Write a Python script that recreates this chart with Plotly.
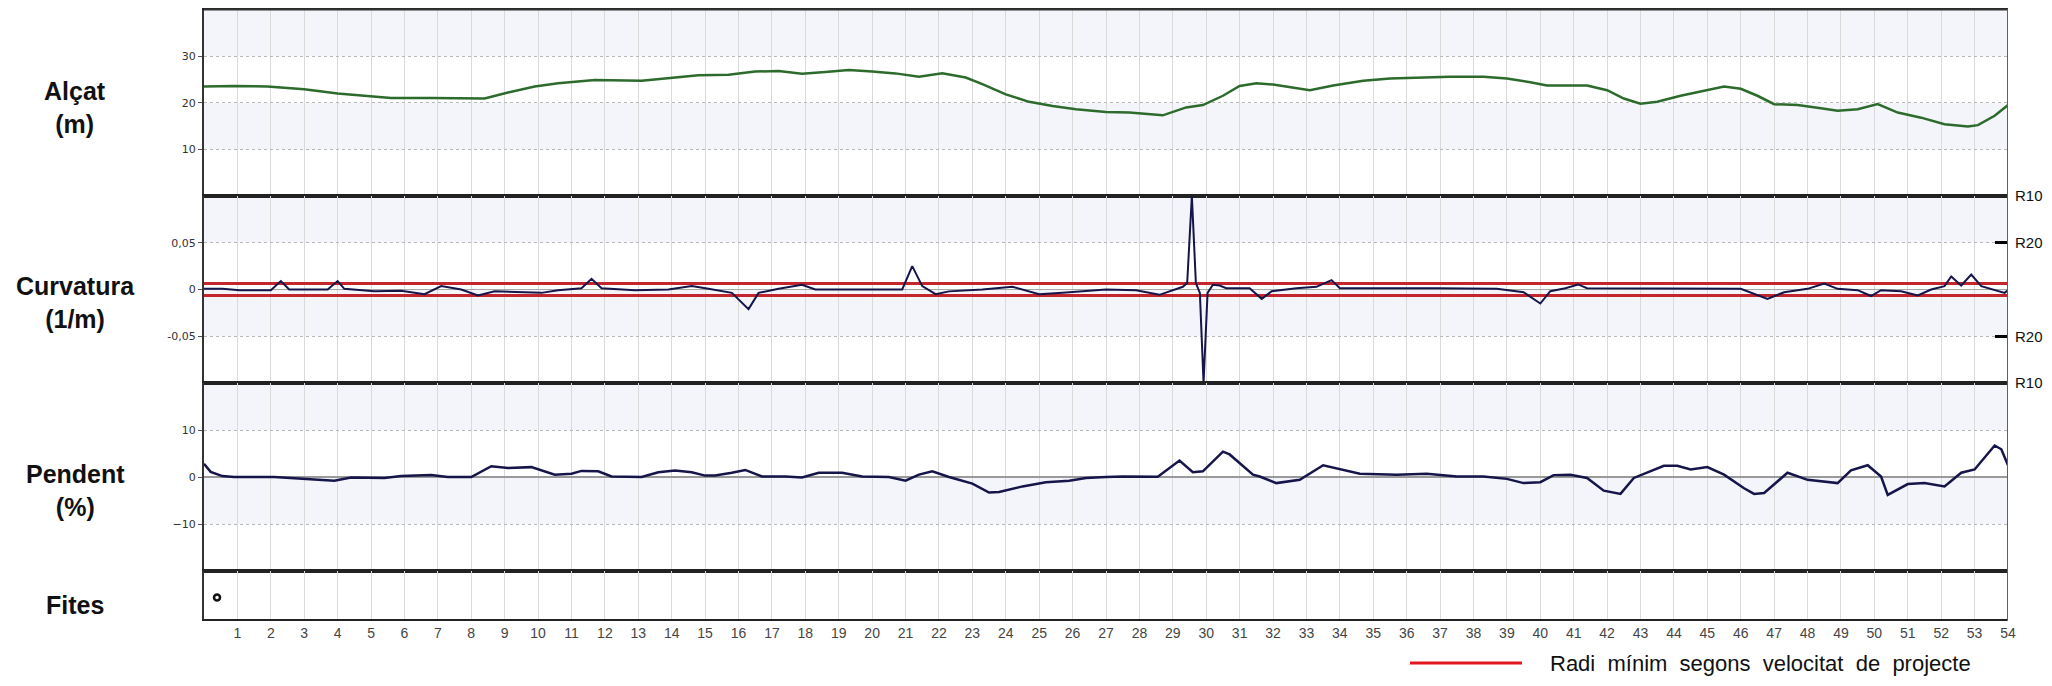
import plotly.graph_objects as go

# perfil longitudinal: alçat, curvatura, pendent i fites (pk en hm)
km_ticks = list(range(1, 55))

alcat_km = [0, 0.9, 1.9, 3.0, 4.0, 5.1, 5.6, 6.8, 7.5, 8.4, 9.1, 9.9, 10.6, 11.7, 13.1,
            14.1, 14.8, 15.7, 16.5, 17.2, 17.9, 18.6, 19.3, 20.0, 20.7, 21.4, 22.1, 22.8,
            23.3, 24.0, 24.7, 25.4, 26.1, 27.0, 27.7, 28.7, 29.4, 29.9, 30.5, 31.0, 31.5,
            32.0, 32.6, 33.1, 33.8, 34.7, 35.5, 36.6, 37.3, 38.3, 39.0, 39.7, 40.2, 40.8,
            41.4, 42.0, 42.5, 43.0, 43.5, 44.2, 44.9, 45.5, 46.0, 46.5, 47.0, 47.7, 48.4,
            48.9, 49.5, 50.1, 50.7, 51.4, 52.1, 52.8, 53.1, 53.6, 54.0]
alcat_m = [23.5, 23.6, 23.5, 22.9, 22.0, 21.3, 21.0, 21.0, 20.9, 20.9, 22.2, 23.5, 24.2,
           24.9, 24.7, 25.4, 25.9, 26.0, 26.7, 26.8, 26.2, 26.6, 27.0, 26.7, 26.3, 25.6,
           26.3, 25.4, 24.0, 21.8, 20.2, 19.3, 18.6, 18.0, 17.9, 17.3, 19.0, 19.5, 21.5,
           23.6, 24.2, 23.9, 23.2, 22.7, 23.7, 24.7, 25.2, 25.4, 25.6, 25.6, 25.2, 24.4,
           23.7, 23.7, 23.7, 22.7, 20.9, 19.8, 20.2, 21.5, 22.5, 23.5, 23.0, 21.5, 19.7,
           19.5, 18.8, 18.3, 18.6, 19.7, 17.9, 16.8, 15.4, 14.9, 15.2, 17.2, 19.5]

curv_km = [0, 0.55, 1.07, 2.0, 2.3, 2.55, 3.7, 4.0, 4.2, 5.1, 5.9, 6.6, 7.1, 7.7, 8.2,
           8.7, 10.1, 10.6, 11.3, 11.6, 11.9, 12.9, 13.9, 14.6, 15.1, 15.8, 16.3, 16.6,
           17.2, 17.9, 18.3, 20.9, 21.2, 21.5, 21.9, 22.3, 23.3, 24.2, 25.0, 25.7, 27.0,
           27.9, 28.6, 29.3, 29.43, 29.57, 29.69, 29.81, 29.92, 30.04, 30.2, 30.4, 30.6,
           31.3, 31.66, 31.96, 32.7, 33.3, 33.75, 34.0, 36.9, 38.7, 39.5, 40.0, 40.3,
           40.75, 41.13, 41.4, 46.0, 46.8, 47.3, 48.0, 48.5, 48.9, 49.5, 49.9, 50.2, 50.8,
           51.3, 51.7, 52.1, 52.3, 52.6, 52.9, 53.2, 53.6, 53.9, 54.0]
curv_inv_m = [0.0007, 0.0007, -0.0007, -0.0007, 0.009, 0.0, 0.0, 0.009, 0.0007, -0.002,
              -0.0014, -0.005, 0.0036, 0.0, -0.0064, -0.002, -0.0036, -0.0007, 0.0014,
              0.0114, 0.0014, -0.0007, 0.0, 0.0036, 0.0007, -0.0036, -0.021, -0.0036,
              0.0007, 0.005, 0.0, 0.0, 0.025, 0.0036, -0.005, -0.002, 0.0, 0.003, -0.005,
              -0.0036, 0.0, -0.0007, -0.0057, 0.0029, 0.007, 0.1, 0.007, -0.0036, -0.1,
              -0.0036, 0.005, 0.0043, 0.0014, 0.0014, -0.01, -0.0018, 0.0014, 0.0029, 0.01,
              0.0014, 0.0014, 0.0007, -0.0029, -0.015, -0.0018, 0.0014, 0.0054, 0.0014,
              0.0007, -0.01, -0.0029, 0.0007, 0.0064, 0.0007, -0.0007, -0.007, -0.0007,
              -0.0018, -0.0064, 0.0, 0.0036, 0.014, 0.0043, 0.016, 0.0036, -0.0007,
              -0.0036, -0.0007]

pend_km = [0, 0.2, 0.55, 0.9, 2.1, 3.0, 3.9, 4.4, 5.4, 5.9, 6.8, 7.3, 8.0, 8.6, 9.1, 9.8,
           10.5, 11.0, 11.3, 11.8, 12.2, 13.1, 13.6, 14.1, 14.6, 15.0, 15.3, 15.8, 16.2,
           16.7, 17.4, 17.9, 18.4, 19.1, 19.7, 20.5, 21.0, 21.4, 21.8, 22.3, 23.0, 23.5,
           23.8, 24.5, 25.2, 25.9, 26.4, 27.0, 27.5, 28.55, 29.2, 29.6, 29.9, 30.5, 30.7,
           31.4, 31.6, 32.1, 32.8, 33.5, 34.1, 34.6, 35.7, 36.6, 37.5, 38.3, 39.0, 39.5,
           40.0, 40.4, 40.9, 41.4, 41.9, 42.4, 42.8, 43.2, 43.7, 44.1, 44.5, 45.0, 45.5,
           46.1, 46.4, 46.7, 47.4, 48.0, 48.5, 48.9, 49.3, 49.8, 50.2, 50.4, 51.0, 51.5,
           52.1, 52.6, 53.0, 53.6, 53.8, 54.0]
pend_pct = [2.8, 1.1, 0.2, 0.0, 0.0, -0.4, -0.8, -0.1, -0.2, 0.2, 0.4, 0.0, 0.0, 2.3, 1.9,
            2.1, 0.5, 0.7, 1.3, 1.2, 0.1, 0.0, 1.0, 1.4, 1.0, 0.3, 0.3, 0.9, 1.5, 0.1, 0.1,
            -0.1, 0.9, 0.9, 0.1, 0.0, -0.8, 0.5, 1.2, 0.0, -1.4, -3.3, -3.2, -2.0, -1.1,
            -0.8, -0.2, 0.0, 0.1, 0.05, 3.5, 1.0, 1.2, 5.4, 4.8, 0.5, 0.1, -1.3, -0.6, 2.5,
            1.6, 0.7, 0.5, 0.7, 0.1, 0.1, -0.4, -1.3, -1.1, 0.4, 0.5, -0.2, -2.9, -3.6,
            -0.2, 1.0, 2.4, 2.4, 1.6, 2.1, 0.5, -2.4, -3.6, -3.4, 0.9, -0.6, -0.9, -1.3, 1.4,
            2.5, 0.1, -3.8, -1.5, -1.3, -2.0, 0.9, 1.6, 6.7, 5.9, 2.5]

fites_km = [0.39]
fites_y = [0.45]

radi_min_curv = 0.0065  # 1/R minim segons velocitat de projecte
radi_vals = [-0.1, -0.05, 0.05, 0.1]
radi_text = ["R10", "R20", "R20", "R10"]

# la pàgina té 8 px de marge al body: la figura fa 2036x670 i les posicions
# de disseny (en px de la finestra) es passen a coordenades de paper
OFF = 8
FW, FH = 2052 - 2 * OFF, 686 - 2 * OFF
def px(x):
    return (x - OFF) / FW
def py(y):
    return 1 - (y - OFF) / FH
def ydom(top, bottom):
    return [py(bottom), py(top)]

BAND = "#f3f5fa"
GRID_V = "#dadada"
GRID_H = "#b8b8b8"
NAVY = "#15154a"
TICKFONT = dict(family="Tahoma, DejaVu Sans, sans-serif", size=11, color="#333")

fig = go.Figure()

fig.add_trace(go.Scatter(x=alcat_km, y=alcat_m, mode="lines", xaxis="x", yaxis="y",
                         line=dict(color="#2d6b2d", width=2.5), showlegend=False))
for s in (1, -1):
    fig.add_trace(go.Scatter(x=[0, 54], y=[s * radi_min_curv] * 2, mode="lines",
                             xaxis="x2", yaxis="y2",
                             line=dict(color="#c3262d", width=3), showlegend=False))
fig.add_trace(go.Scatter(x=curv_km, y=curv_inv_m, mode="lines", xaxis="x2", yaxis="y2",
                         line=dict(color=NAVY, width=2), showlegend=False))
# eix auxiliar per als radis R10/R20
fig.add_trace(go.Scatter(x=[54], y=[0], mode="markers", xaxis="x2", yaxis="y5",
                         marker=dict(opacity=0), showlegend=False, hoverinfo="skip"))
fig.add_trace(go.Scatter(x=pend_km, y=pend_pct, mode="lines", xaxis="x3", yaxis="y3",
                         line=dict(color=NAVY, width=2.5), showlegend=False))
fig.add_trace(go.Scatter(x=fites_km, y=fites_y, mode="markers", xaxis="x4", yaxis="y4",
                         marker=dict(symbol="circle-open", size=6, color="#111",
                                     line=dict(color="#111", width=2.5)),
                         showlegend=False))

panels = [(9.5, 196), (196, 383), (383, 571), (571, 619)]
X0, X1 = px(204), px(2008)
for i, (top, bot) in enumerate(panels, start=1):
    sfx = "" if i == 1 else str(i)
    fig.layout["xaxis" + sfx] = dict(
        domain=[X0, X1], anchor="y" + sfx, range=[0, 54], automargin=False,
        tickvals=km_ticks, ticks="", showticklabels=(i == 4),
        tickfont=dict(family="Liberation Sans Narrow, Arial Narrow, Liberation Sans, Arial",
                      size=14, color="#444"),
        showgrid=True, gridcolor=GRID_V, gridwidth=1,
        showline=True, linecolor="#222", linewidth=1.5 if i > 1 else 2, mirror=True,
        zeroline=False, matches=None if i == 1 else "x",
    )

yax = dict(showline=True, linecolor="#333", linewidth=2, ticks="outside", ticklen=4,
           tickcolor="#555", tickfont=TICKFONT, showgrid=True, gridcolor=GRID_H,
           griddash="dot", gridwidth=1, automargin=False)
fig.update_layout(
    yaxis=dict(domain=ydom(*panels[0]), anchor="x", range=[0, 40],
               tickvals=[10, 20, 30], zeroline=False, **yax),
    yaxis2=dict(domain=ydom(*panels[1]), anchor="x2", range=[-0.1, 0.1],
                tickvals=[-0.05, 0, 0.05], ticktext=["-0,05", "0", "0,05"],
                zeroline=True, zerolinecolor="#a8a8a8", zerolinewidth=1, **yax),
    yaxis3=dict(domain=ydom(*panels[2]), anchor="x3", range=[-20, 20],
                tickvals=[-10, 0, 10], zeroline=True, zerolinecolor="#9a9a9a",
                zerolinewidth=1.5, **yax),
    yaxis4=dict(domain=ydom(*panels[3]), anchor="x4", range=[0, 1],
                showticklabels=False, ticks="", showgrid=False, zeroline=False,
                showline=True, linecolor="#333", linewidth=2, automargin=False),
    yaxis5=dict(overlaying="y2", anchor="x2", side="right", range=[-0.1, 0.1],
                tickvals=radi_vals, ticktext=radi_text, ticks="inside", ticklen=13,
                tickwidth=3, tickcolor="#000", ticklabelstandoff=6, automargin=False,
                tickfont=dict(family="Liberation Sans, Arial", size=15, color="#111"),
                showgrid=False, showline=False, zeroline=False),
)

# franges alternes de fons
bands = [("y", 30, 40), ("y", 10, 20), ("y2", 0.05, 0.1), ("y2", -0.05, 0),
         ("y3", 10, 20), ("y3", -10, 0)]
for yref, lo, hi in bands:
    xref = {"y": "x", "y2": "x2", "y3": "x3"}[yref]
    fig.add_shape(type="rect", xref=xref + " domain", yref=yref, x0=0, x1=1, y0=lo, y1=hi,
                  fillcolor=BAND, line_width=0, layer="below")

# vora superior del gràfic
fig.add_shape(type="line", xref="paper", yref="paper", x0=X0, x1=X1, y0=py(9.5),
              y1=py(9.5), line=dict(color="#333", width=2))

# línia vermella de posició al final del tram
fig.add_shape(type="line", xref="x", yref="paper", x0=54, x1=54, y0=py(621), y1=py(9),
              line=dict(color="#c0392b", width=2))

# etiquetes de panell
labels = [("Alçat<br>(m)", 107), ("Curvatura<br>(1/m)", 302),
          ("Pendent<br>(%)", 491), ("Fites", 605)]
for txt, yc in labels:
    fig.add_annotation(text=f"<b>{txt}</b>", xref="paper", yref="paper", x=px(75),
                       y=py(yc), xanchor="center", yanchor="middle", showarrow=False,
                       font=dict(family="Liberation Sans, Arial", size=25, color="#111"))

# llegenda
LEG_Y = 663
fig.add_shape(type="line", xref="paper", yref="paper", x0=px(1410), x1=px(1522),
              y0=py(LEG_Y), y1=py(LEG_Y), line=dict(color="#e3171f", width=3))
fig.add_annotation(text="Radi \u00a0mínim \u00a0segons \u00a0velocitat \u00a0de \u00a0projecte",
                   xref="paper", yref="paper", x=px(1548), y=py(LEG_Y),
                   xanchor="left", yanchor="middle", showarrow=False,
                   font=dict(family="Liberation Sans, Arial", size=22, color="#111"))

fig.update_layout(width=FW, height=FH,
                  margin=dict(l=0, r=0, t=0, b=0, autoexpand=False),
                  plot_bgcolor="white", paper_bgcolor="white", showlegend=False)

fig.write_html("out.html", config={"displayModeBar": False})
